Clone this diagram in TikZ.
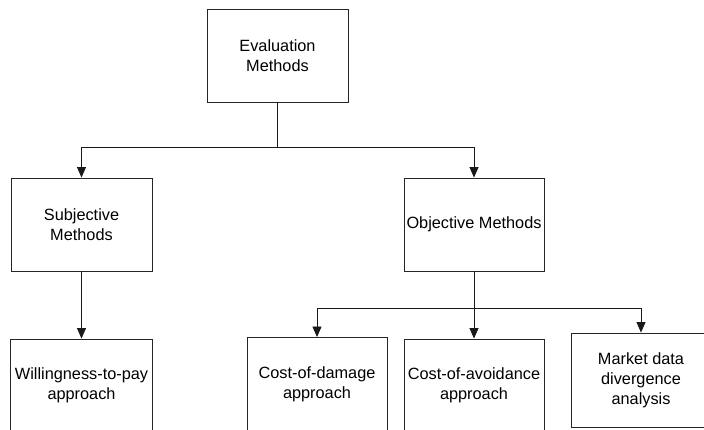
\documentclass[tikz,border=0pt]{standalone}
\usepackage{fontspec}
\setmainfont{Liberation Sans}
\usetikzlibrary{arrows.meta}

\tikzset{
  methodbox/.style={draw=black!85, line width=0.9pt, inner sep=0pt,
    minimum width=140pt, minimum height=93pt, align=center,
    font=\fontsize{16.3}{20}\selectfont},
  linkarrow/.style={draw=black!90, line width=0.8pt,
    -{Triangle[length=10.5pt,width=9pt]}},
  link/.style={draw=black!90, line width=0.8pt}
}

\begin{document}
\begin{tikzpicture}[x=1pt,y=-1pt]
% the page
\useasboundingbox (0,0) rectangle (704,430);

% we place the boxes
\node[methodbox, minimum width=141pt] (eval) at (277.5,55.5) {Evaluation\\Methods};
\node[methodbox, minimum width=141pt] (subj) at (81.5,224.5) {Subjective\\Methods};
\node[methodbox] (obj) at (474,224.5) {Objective Methods};

\node[methodbox, minimum width=142pt] (wtp) at (81.5,385.5) {Willingness-to-pay\\approach};
\node[methodbox] (damage) at (317,384) {Cost-of-damage\\approach};
\node[methodbox] (avoid) at (474,385.5) {Cost-of-avoidance\\approach};
\node[methodbox, minimum height=94pt] (market) at (641,380) {Market data\\divergence\\analysis};

% the branch points
\coordinate (evsplit) at (277.5,147);
\coordinate (objsplit) at (474,308);

% we draw the connectors
\draw[link] (eval.south) -- (evsplit);
\draw[linkarrow] (evsplit) -| (subj.north);
\draw[linkarrow] (evsplit) -| (obj.north);

\draw[linkarrow] (subj.south) -- (wtp.north);

\draw[link] (obj.south) -- (objsplit);
\draw[linkarrow] (objsplit) -| (damage.north);
\draw[linkarrow] (objsplit) -- (avoid.north);
\draw[linkarrow] (objsplit) -| (market.north);

\end{tikzpicture}
\end{document}
